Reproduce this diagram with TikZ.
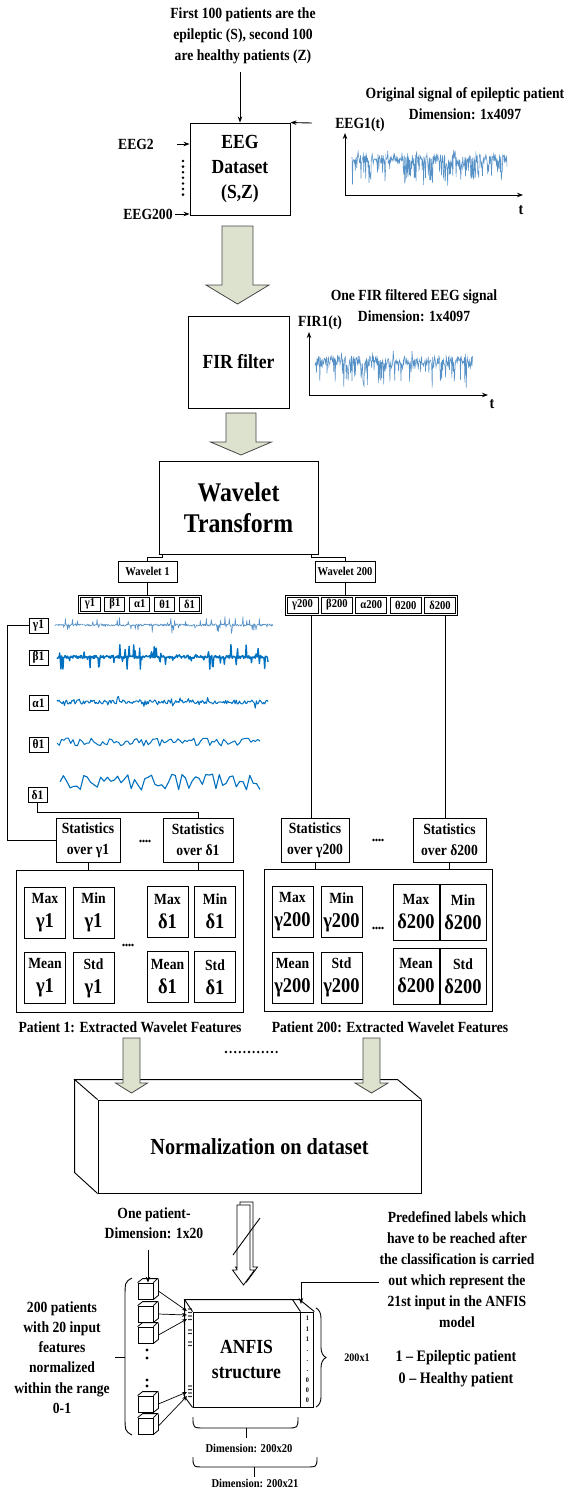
\documentclass[tikz,border=0pt]{standalone}
\usepackage{fontspec}
\setmainfont{Liberation Serif}[FakeStretch=0.88]
\usetikzlibrary{positioning, fit, arrows.meta, decorations.pathreplacing}

\definecolor{arrfill}{RGB}{221,226,206}
\definecolor{arredge}{RGB}{70,70,70}
\definecolor{eegblue}{RGB}{85,145,198}
\definecolor{bandblue}{RGB}{0,112,192}

\tikzset{
  lbl/.style={font=\fontsize{15.5}{21}\selectfont\bfseries, align=center, inner sep=0pt},
  blk/.style={draw, line width=0.9pt, align=center, inner sep=0pt},
  tag/.style={blk, font=\fontsize{12}{14}\selectfont\bfseries},
  bandtag/.style={tag, minimum width=20pt, minimum height=14pt},
  widetag/.style={tag, minimum width=31pt, minimum height=16pt},
  sidetag/.style={blk, font=\fontsize{13}{14}\selectfont\bfseries, minimum width=19pt, minimum height=15pt},
  stat/.style={blk, font=\fontsize{15.5}{21}\selectfont\bfseries, minimum height=44pt},
  feat/.style={blk, font=\fontsize{15.5}{24}\selectfont\bfseries, minimum width=41pt, minimum height=51pt},
  featd/.style={feat, minimum width=46pt, minimum height=56pt},
  grp/.style={draw, double, double distance=1.3pt, line width=0.6pt, inner sep=0pt, minimum height=127pt},
  arr/.style={-{Stealth[length=6pt, width=4.5pt]}, line width=0.9pt},
  smallarr/.style={-{Stealth[length=5pt, width=4pt]}, line width=0.7pt},
  fatarr/.style={draw=arredge, fill=arrfill, line width=0.8pt},
  hollow/.style={draw, fill=white, line width=0.8pt},
  eeg/.style={eegblue, line width=0.55pt},
  band/.style={bandblue, line width=1pt, line join=round},
  tiny/.style={font=\fontsize{12}{14}\selectfont\bfseries, inner sep=0pt},
}
\newcommand{\fatarrow}[7][fatarr]{% top centre, half shaft, half head, head base, tip
  \draw[#1, shift={(#2,#3)}] (-#4,0) -- (#4,0) -- (#4,#6) -- (#5,#6) -- (0,#7) -- (-#5,#6) -- (-#4,#6) -- cycle;}
\newcommand{\dotrow}[4]{\foreach \k in {1,...,#3} \fill ({#1+(\k-1)*#4},#2) circle (1.3pt);}
\newcommand{\fv}[1]{{\fontsize{21}{24}\selectfont #1}}

\begin{document}
\begin{tikzpicture}[x=1pt, y=-1pt, line width=0.9pt]
\useasboundingbox (0,0) rectangle (573,1489);

% dataset
\node[lbl] (note) at (243,36) {First 100 patients are the\\epileptic (S), second 100\\are healthy patients (Z)};
\node[blk, minimum width=100pt, minimum height=92pt, font=\fontsize{20}{25}\selectfont\bfseries] (ds) at (240,169) {EEG\\Dataset\\(S,Z)};
\coordinate (noteout) at ([yshift=-7pt]note.south);
\draw[arr] (noteout -| ds.north) -- (ds.north);
\node[lbl] (eeg2) at (136,144) {EEG2};
\node[lbl] (eeg200) at (148,214) {EEG200};
\draw[arr] ([xshift=23pt]eeg2.east) -- (eeg2.east -| ds.west);
\draw[arr] ([xshift=2pt]eeg200.east) -- (eeg200.east -| ds.west);
\foreach \k in {0,...,6} \fill (183,{161+\k*5.6}) circle (1.4pt);

\node[lbl] (orig) at (465,104) {Original signal of epileptic patient\\Dimension: 1x4097};
\node[lbl] (eeg1) at (360,125) {EEG1(t)};
\coordinate (eegin) at (312,123);
\draw[arr] (eegin) -- (ds.north east);
\coordinate (o1) at (345,195);
\draw[arr] (o1) -- ++(0,-62);
\draw[arr] (o1) -- (523,195);
\node[lbl, font=\fontsize{16}{16}\selectfont\bfseries] (taxis1) at (521,210) {t};
\pgfmathsetseed{11}
\draw[eeg] plot[domain=352:507, samples=330] (\x,{159+5*rand+24*(rnd>0.68)*rnd-8*(rnd>0.88)*rnd});

% FIR filter
\fatarrow{237.5}{226}{15.5}{31.5}{59}{78}
\node[blk, minimum width=101pt, minimum height=92pt, font=\fontsize{20}{25}\selectfont\bfseries] (fir) at (238.5,362) {FIR filter};
\node[lbl] (firtxt) at (414,305.5) {One FIR filtered EEG signal\\Dimension: 1x4097};
\node[lbl] (fir1) at (320,323) {FIR1(t)};
\coordinate (o2) at (309,395);
\draw[arr] (o2) -- ++(0,-63);
\draw[arr] (o2) -- (488,395);
\node[lbl, font=\fontsize{16}{16}\selectfont\bfseries] (taxis2) at (492,404) {t};
\draw[eeg] plot[domain=315:473, samples=330] (\x,{361+5*rand+24*(rnd>0.68)*rnd-8*(rnd>0.88)*rnd});

% wavelet
\fatarrow{241}{413}{15}{30.5}{29}{42}
\node[blk, minimum width=159pt, minimum height=93pt, font=\fontsize{27}{31}\selectfont\bfseries] (wt) at (238.5,507.5) {Wavelet\\Transform};
\node[tag, minimum width=59pt, minimum height=21pt] (w1) at (147.5,571.5) {Wavelet 1};
\node[tag, minimum width=60pt, minimum height=21pt] (w200) at (345,571.5) {Wavelet 200};
\draw ([xshift=4pt]wt.south west) -- ++(0,3) -| (w1.north);
\draw ([xshift=-7pt]wt.south east) -- ++(0,3) -| (w200.north);

\node[bandtag] (g1) at (90,604) {γ1};
\node[bandtag, right=4pt of g1] (b1) {β1};
\node[bandtag, right=4pt of b1] (a1) {α1};
\node[bandtag, right=4pt of a1] (th1) {θ1};
\node[bandtag, right=4pt of th1] (d1) {δ1};
\node[draw, fit=(g1)(d1), inner sep=1.6pt] (bands1) {};
\draw (w1.south) -- (w1.south |- bands1.north);

\node[widetag] (g200) at (302.5,605) {γ200};
\node[widetag, right=2.5pt of g200] (b200) {β200};
\node[widetag, right=2.5pt of b200] (a200) {α200};
\node[widetag, right=2.5pt of a200] (th200) {θ200};
\node[widetag, right=2.5pt of th200] (d200) {δ200};
\node[draw, fit=(g200)(d200), inner sep=1.6pt] (bands200) {};
\draw (w200.south) -- (w200.south |- bands200.north);

\node[sidetag] (sg) at (38.5,625.5) {γ1};
\node[sidetag] (sb) at (38.5,657.5) {β1};
\node[sidetag] (sa) at (38.5,703) {α1};
\node[sidetag] (st) at (38.5,744.5) {θ1};
\node[sidetag] (sd) at (37.5,795) {δ1};

\pgfmathsetseed{3}
\draw[band, line width=0.6pt, eegblue] plot[domain=55:273, samples=400] (\x,{625+1.2*rand+8*rand*(rnd>0.88)});
\draw[band, line width=1.4pt] plot[domain=57:268, samples=320] (\x,{657+(1.5+11*(rnd>0.82))*rand});
\draw[band] plot[domain=57:268, samples=200] (\x,{702+2*rand+5*rand*(rnd>0.85)});
\draw[band] plot[domain=57:260, samples=90] (\x,{742+4*rand});
\draw[band, line width=1.1pt] plot[domain=60:260, samples=60] (\x,{782+8*rand});

% statistics
\node[stat, minimum width=64pt] (stg1) at (88,840) {Statistics\\over γ1};
\node[stat, minimum width=70pt] (std1) at (198,840) {Statistics\\over δ1};
\node[stat, minimum width=68pt] (stg200) at (315,840) {Statistics\\over γ200};
\node[stat, minimum width=73pt] (std200) at (449.5,840) {Statistics\\over δ200};
\dotrow{140.5}{841}{4}{3}
\dotrow{373.5}{840}{4}{3}

\draw (sg.west) -- ++(-21,0) |- (stg1.west);
\draw (sd.south) -- ++(0,9) -| (std1.north);
\coordinate (g200x) at ([xshift=8.5pt]g200.south);
\coordinate (d200x) at ([xshift=5.5pt]d200.south);
\draw (g200x |- bands200.south) -- (g200x |- stg200.north);
\draw (d200x |- bands200.south) -- (d200x |- stg200.north);

% patient 1 features
\node[blk, minimum width=227pt, minimum height=142pt] (pat1) at (129.5,941) {};
\draw (stg1.south) -- (stg1.south |- pat1.north);
\draw (std1.south) -- (std1.south |- pat1.north);
\node[grp, minimum width=96pt] (grpg1) at (69,945.5) {};
\node[feat] (maxg1) at (45,912.5) {Max\\\fv{γ1}};
\node[feat] (ming1) at (93.5,912.5) {Min\\\fv{γ1}};
\node[feat] (meang1) at (45,978) {Mean\\\fv{γ1}};
\node[feat] (stdg1) at (93.5,978) {Std\\\fv{γ1}};
\node[grp, minimum width=96pt] (grpd1) at (191,944.5) {};
\node[feat] (maxd1) at (167.5,911.5) {Max\\\fv{δ1}};
\node[feat] (mind1) at (215,911.5) {Min\\\fv{δ1}};
\node[feat] (meand1) at (167.5,977) {Mean\\\fv{δ1}};
\node[feat] (stdd1) at (215,977) {Std\\\fv{δ1}};
\dotrow{123.5}{945}{4}{3}
\node[lbl] (cap1) at (130,1027) {Patient 1: Extracted Wavelet Features};

% patient 200 features
\node[blk, minimum width=228pt, minimum height=142pt] (pat200) at (378,940) {};
\draw (stg200.south) -- (stg200.south |- pat200.north);
\draw (std200.south) -- (std200.south |- pat200.north);
\node[grp, minimum width=98pt] (grpg200) at (317,944.5) {};
\node[feat] (maxg200) at (292.5,912) {Max\\\fv{γ200}};
\node[feat] (ming200) at (341.5,912) {Min\\\fv{γ200}};
\node[feat] (meang200) at (292.5,977.5) {Mean\\\fv{γ200}};
\node[feat] (stdg200) at (341.5,977.5) {Std\\\fv{γ200}};
\node[grp, minimum width=98pt, minimum height=128pt] (grpd200) at (439,943) {};
\node[featd] (maxd200) at (416,912) {Max\\\fv{δ200}};
\node[featd] (mind200) at (463,912) {Min\\\fv{δ200}};
\node[featd] (meand200) at (416,976) {Mean\\\fv{δ200}};
\node[featd] (stdd200) at (463,976) {Std\\\fv{δ200}};
\dotrow{373.5}{928}{4}{3}
\node[lbl] (cap200) at (390,1027) {Patient 200: Extracted Wavelet Features};

% normalization
\node[blk, minimum width=323pt, minimum height=93pt, font=\fontsize{23}{27}\selectfont\bfseries] (norm) at (259.5,1146.5) {Normalization on dataset};
\draw (norm.north west) -- ++(-23,-20) coordinate (nbk) -- ++(323,0) -- (norm.north east);
\draw (nbk) -- ++(0,93) -- (norm.south west);
\dotrow{226}{1052}{12}{4.6}
\fatarrow{131.5}{1038}{8.5}{16}{45}{55}
\fatarrow{371.5}{1038}{8.5}{16.5}{45}{55}

\fatarrow[hollow]{246.5}{1202}{6.5}{11}{65}{80}
\fatarrow[hollow]{243.5}{1205}{6.5}{11}{65}{80}
\draw (233,1255) -- (260,1218);

% ANFIS
\node[lbl, font=\fontsize{15.5}{20}\selectfont\bfseries] (onep) at (154,1223) {One patient-\\Dimension: 1x20};
\foreach \n/\yy in {c1/1291, c2/1314, c3/1335, c4/1404, c5/1426} {
  \node[draw, line width=0.8pt, minimum width=15pt, minimum height=16pt, inner sep=0pt] (\n) at (145.5,\yy) {};
  \draw[line width=0.8pt] (\n.north west) -- ++(5,-4) -- ++(15,0) -- (\n.north east) (\n.south east) -- ++(5,-4) -- ++(0,-16);
}
\coordinate (onepin) at (148,1250);
\draw[arr] (onepin) -- (onepin |- c1.north);
\foreach \yy in {1350,1358,1380,1386} \fill (147,\yy) circle (1.6pt);

\node[lbl, font=\fontsize{15.5}{20.2}\selectfont\bfseries] (pats) at (62,1357.5) {200 patients\\with 20 input\\features\\normalized\\within the range\\0-1};
\draw (132,1278) .. controls (125,1282) .. (125,1298) -- (125,1415) .. controls (125,1431) .. (132,1435);
\draw (115,1357) -- (125,1357);

\node[blk, minimum width=107pt, minimum height=95pt, font=\fontsize{20}{25}\selectfont\bfseries] (anfis) at (246.5,1359.5) {ANFIS\\structure};
\node[blk, minimum width=13pt, minimum height=95pt, anchor=west, font=\fontsize{7}{10.2}\selectfont\bfseries] (labcol) at (anfis.east) {1\\1\\1\\.\\.\\.\\0\\0\\0};
\draw (anfis.north west) -- ++(-8,-12) coordinate (abk) -- ++(115,0) -- (labcol.north east);
\draw (labcol.north west) -- ++(-8,-12);
\draw (abk) -- ++(0,97) -- (anfis.south west);

\coordinate (in1) at (187,1311);
\coordinate (in2) at (187,1315);
\coordinate (in3) at (187,1319);
\coordinate (in4) at (187,1392);
\coordinate (in5) at (187,1396);
\draw[smallarr] ([xshift=5pt]c1.east) -- (in1);
\draw[smallarr] ([xshift=5pt]c2.east) -- (in2);
\draw[smallarr] ([xshift=5pt]c3.east) -- (in3);
\draw[smallarr] ([xshift=5pt]c4.east) -- (in4);
\draw[smallarr] ([xshift=5pt]c5.east) -- (in5);
\foreach \yy in {1309,1312.5,1316,1319.5,1330,1333.5,1342,1345.5,1386,1389.5,1393,1396.5}
  \fill (189,\yy) circle (0.8pt) (191,\yy) circle (0.8pt);

\draw (193,1417) .. controls (193,1428) .. (205,1428) -- (287,1428) .. controls (298,1428) .. (298,1417);
\draw (246,1428) -- (246,1438);
\node[tiny] (dim20) at (249,1448) {Dimension: 200x20};
\draw (193,1457) .. controls (193,1467) .. (205,1467) -- (305,1467) .. controls (317,1467) .. (317,1457);
\draw (254,1467) -- (254,1477);
\node[tiny] (dim21) at (255,1483) {Dimension: 200x21};

\draw[decorate, decoration={brace, amplitude=10pt}] (316,1308) -- (316,1407);
\node[tiny, font=\fontsize{11.5}{13}\selectfont\bfseries] (dim1) at (357,1358) {200x1};

\node[lbl] (predef) at (457,1269.5) {Predefined labels which\\have to be reached after\\the classification is carried\\out which represent the\\21st input in the ANFIS\\model};
\coordinate (elbow) at (301,1282);
\coordinate (coltop) at (301,1304);
\draw[arr] (predef.west |- elbow) -- (elbow) -- (coltop);
\node[lbl, font=\fontsize{16}{22}\selectfont\bfseries] (legend) at (456,1369) {1 – Epileptic patient\\0 – Healthy patient};

\end{tikzpicture}
\end{document}
